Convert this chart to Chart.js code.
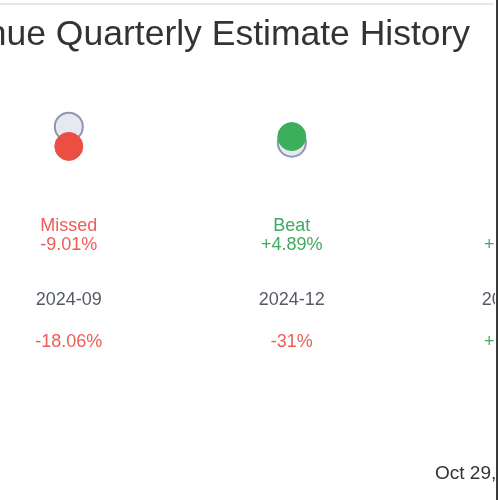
<!DOCTYPE html>
<html>
<head>
<meta charset="utf-8">
<script src="https://cdn.jsdelivr.net/npm/chart.js@4.4.1/dist/chart.umd.min.js"></script>
<style>
  html, body { margin: 0; padding: 0; background: #fff; }
  body { width: 500px; height: 500px; position: relative; overflow: hidden; font-family: 'Liberation Sans', Arial, sans-serif; }
  .clip { position: absolute; left: 0; top: 0; width: 495px; height: 500px; overflow: hidden; }
  .chart-wrap { position: absolute; left: -259px; top: 0; width: 892px; height: 500px; }
  .top-line { position: absolute; left: 0; top: 3px; width: 493px; height: 2px; background: #e4e7ec; }
  .right-line { position: absolute; left: 496px; top: 0; width: 2px; height: 500px; background: #3c3c3c; }
  .stamp { position: absolute; left: 435px; top: 462px; font-size: 19px; color: #333; white-space: nowrap; }
</style>
</head>
<body>
<div class="clip">
  <div class="chart-wrap"><canvas id="chart"></canvas></div>
  <div class="stamp">Oct 29, 2025</div>
</div>
<div class="top-line"></div>
<div class="right-line"></div>
<script>
const quarters = ['2024-09', '2024-12', '2025-03']
const estimates = [2.38, 2.21, 2.30]
const actuals = [2.17, 2.275, 2.35]
const surprise = [-9.01, 4.89, 2.15]
const yoyChange = ['-18.06%', '-31%', '+23.4%']

const red = '#ea4f42'
const green = '#3dae5c'
const redText = '#ee5c57'
const greenText = '#43a862'

const beat = surprise.map((s) => s >= 0)

// подписи под каждым кварталом
const labelsPlugin = {
  id: 'quarterLabels',
  afterDatasetsDraw(chart) {
    const ctx = chart.ctx
    const x = chart.scales.x
    const base = chart.chartArea.bottom
    ctx.save()
    ctx.textAlign = 'center'
    ctx.textBaseline = 'middle'
    ctx.font = '18px "Liberation Sans", Arial, sans-serif'
    quarters.forEach((q, i) => {
      const px = x.getPixelForValue(i)
      ctx.fillStyle = beat[i] ? greenText : redText
      ctx.fillText(beat[i] ? 'Beat' : 'Missed', px, base + 26)
      const s = (surprise[i] >= 0 ? '+' : '') + surprise[i].toFixed(2) + '%'
      ctx.fillText(s, px, base + 45)
      ctx.fillStyle = '#555b66'
      ctx.fillText(q, px, base + 100)
      ctx.fillStyle = yoyChange[i].startsWith('-') ? redText : greenText
      ctx.fillText(yoyChange[i], px, base + 142)
    })
    ctx.restore()
  },
}

new Chart(document.getElementById('chart').getContext('2d'), {
  type: 'scatter',
  data: {
    datasets: [
      {
        label: 'Actual',
        data: actuals.map((v, i) => ({ x: i, y: v })),
        backgroundColor: beat.map((b) => (b ? green : red)),
        borderColor: beat.map((b) => (b ? green : red)),
        borderWidth: 1,
        pointRadius: 14,
      },
      {
        label: 'Estimate',
        data: estimates.map((v, i) => ({ x: i, y: v })),
        backgroundColor: '#e6e9ef',
        borderColor: '#8e97b2',
        borderWidth: 2,
        pointRadius: 14,
      },
    ],
  },
  options: {
    responsive: true,
    maintainAspectRatio: false,
    animation: false,
    clip: false,
    layout: { autoPadding: false, padding: { left: 0, right: 0, top: 0, bottom: 300 } },
    plugins: {
      legend: { display: false },
      tooltip: { enabled: false },
      title: {
        display: true,
        text: 'Revenue Quarterly Estimate History',
        color: '#333',
        font: { size: 35.5, weight: 'normal', family: '"Liberation Sans", Arial, sans-serif' },
        padding: { top: 14, bottom: 10 },
      },
    },
    scales: {
      x: { type: 'linear', min: -1.47, max: 2.53, display: false },
      y: { min: 1.6, max: 3.02, display: false },
    },
  },
  plugins: [labelsPlugin],
})
</script>
</body>
</html>
